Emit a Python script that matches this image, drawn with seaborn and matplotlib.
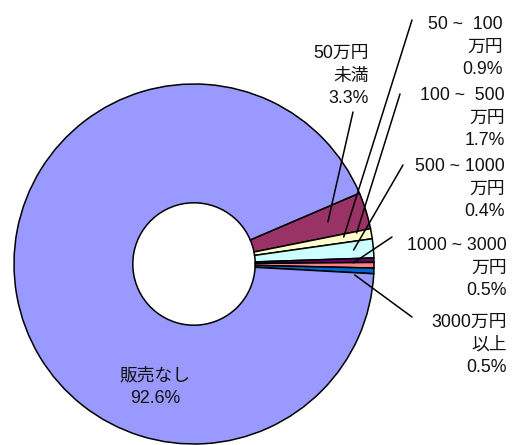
import numpy as np
import matplotlib
matplotlib.use('Agg')
import matplotlib.pyplot as plt
import seaborn as sns

# slice order, clockwise from the top edge of the 50万円未満 wedge
categories = ['50万円未満', '50～100万円', '100～500万円', '500～1000万円',
              '1000～3000万円', '3000万円以上', '販売なし']
shares = [3.3, 0.9, 1.7, 0.4, 0.5, 0.5, 92.6]
label_texts = ['50万円\n未満\n3.3%',
               '50 ~  100\n万円\n0.9%',
               '100 ~  500\n万円\n1.7%',
               '500 ~ 1000\n万円\n0.4%',
               '1000 ~ 3000\n万円\n0.5%',
               '3000万円\n以上\n0.5%',
               '販売なし\n92.6%']
colors = ['#993366', '#FFFFCC', '#CCFFFF', '#660066', '#FF8080', '#0066CC', '#9999FF']

sns.set_theme(style='white')
plt.rcParams['font.family'] = ['Liberation Sans', 'Noto Sans CJK JP', 'DejaVu Sans']

W, H = 512, 445
CX, CY, R = 194, 264, 180  # pie centre / radius in pixels
FS = 12.8


def px(x, y):
    # pixel position -> data coords (pie radius = 1)
    return (x - CX) / R, (CY - y) / R


fig = plt.figure(figsize=(W / 100, H / 100), dpi=100)
ax = fig.add_axes([0, 0, 1, 1])
ax.pie(shares, colors=colors, startangle=23.2, counterclock=False,
       wedgeprops=dict(width=0.66, edgecolor='black', linewidth=1.1))
ax.set_xlim(-CX / R, (W - CX) / R)
ax.set_ylim(-(H - CY) / R, CY / R)
ax.set_aspect('equal')
ax.axis('off')

# label anchors (right edge / middle line) in pixels
label_pos = [(369, 76), (503, 47), (505, 118), (505, 189), (507, 268), (507, 345)]
for txt, (x, y) in zip(label_texts[:6], label_pos):
    ax.text(*px(x, y), txt, ha='right', va='center', fontsize=FS,
            linespacing=1.45, multialignment='right', color='#111111')
ax.text(*px(155, 387), label_texts[6], ha='center', va='center', fontsize=FS,
        linespacing=1.45, color='#111111')

# leader lines: label side start, slice side (angle, radius)
leader_start = [(353, 112), (412, 20), (400, 94), (403, 165), (392, 237), (412, 317)]
leader_end = [(17.5, 0.78), (10.2, 0.845), (10.8, 0.92), (5.0, 0.89), (0.4, 0.885), (-3.9, 0.895)]
for (sx, sy), (ang, rr) in zip(leader_start, leader_end):
    a = np.deg2rad(ang)
    x0, y0 = px(sx, sy)
    ax.plot([x0, rr * np.cos(a)], [y0, rr * np.sin(a)], color='black', lw=1.1)

fig.savefig('out.png', dpi=100, facecolor='white')
